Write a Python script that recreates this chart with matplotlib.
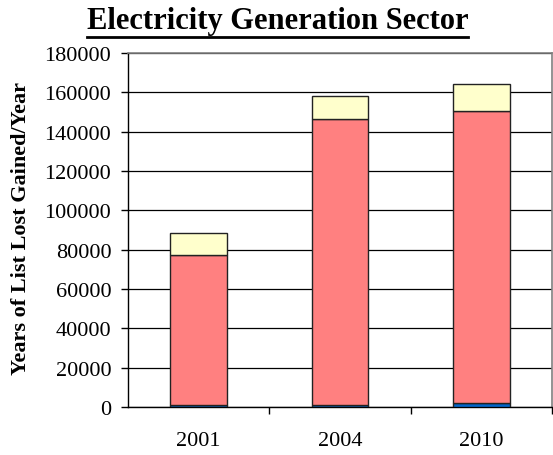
import matplotlib
matplotlib.use("Agg")
import matplotlib.pyplot as plt
from matplotlib.lines import Line2D
import numpy as np

plt.rcParams['font.family'] = ['Liberation Serif', 'DejaVu Serif']

years = ["2001", "2004", "2010"]
blue_vals = [1000, 1000, 1800]
salmon_vals = [76400, 145400, 148500]
yellow_vals = [11000, 11600, 14000]
yticks = [0, 20000, 40000, 60000, 80000, 100000, 120000, 140000, 160000, 180000]

fig = plt.figure(figsize=(5.53, 4.56), dpi=100)
ax = fig.add_axes([128/553, 1 - 408/456, (552-128)/553, (408-54)/456])

x = np.arange(len(years))
w = 0.4
edge = dict(edgecolor="#222222", linewidth=1.0)
ax.bar(x, blue_vals, w, color="#0066CC", **edge, zorder=3)
b2 = np.array(blue_vals)
ax.bar(x, salmon_vals, w, bottom=b2, color="#FF8080", **edge, zorder=3)
b3 = b2 + np.array(salmon_vals)
ax.bar(x, yellow_vals, w, bottom=b3, color="#FFFFCC", **edge, zorder=3)

ax.set_xlim(-0.5, 2.5)
ax.set_ylim(0, 180000)
ax.set_yticks(yticks)
ax.set_yticklabels([str(v) for v in yticks], fontsize=16)
ax.yaxis.grid(True, color="black", linewidth=0.9, zorder=0)
ax.set_axisbelow(True)

ax.set_xticks(x)
ax.set_xticklabels(years, fontsize=16)
ax.tick_params(axis='x', which='major', length=0, pad=17)
ax.set_xticks([0.5, 1.5, 2.5], minor=True)
ax.tick_params(axis='x', which='minor', length=5, width=1, direction='out')
ax.tick_params(axis='y', length=5, width=1, direction='out', pad=7)

for s in ['top', 'right']:
    ax.spines[s].set_color("#808080")
    ax.spines[s].set_linewidth(1.2)
for s in ['left', 'bottom']:
    ax.spines[s].set_color("black")
    ax.spines[s].set_linewidth(1.0)

ax.set_ylabel("Years of List Lost Gained/Year", fontsize=16, fontweight='bold')
ax.yaxis.label.set_va('center')
ax.yaxis.set_label_coords(21/553, 1 - 229/456, transform=fig.transFigure)

t = fig.text(0.5 * (88 + 467) / 553, 1 - 22/456, "Electricity Generation Sector",
             ha='center', va='center', fontsize=22, fontweight='bold')
fig.canvas.draw()
bb = t.get_window_extent()
fig.add_artist(Line2D([bb.x0 / fig.bbox.width, bb.x1 / fig.bbox.width],
                      [(bb.y0 - 1) / fig.bbox.height] * 2,
                      transform=fig.transFigure, color='black', linewidth=2))

fig.savefig("out.png", dpi=100)
